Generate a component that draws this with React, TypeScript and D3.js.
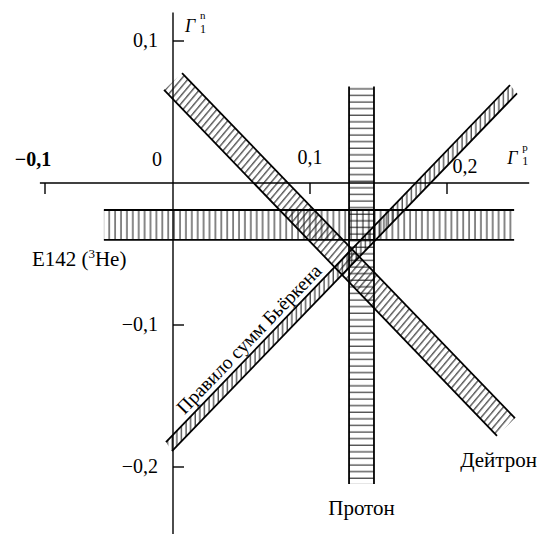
import React from 'react'
import * as d3 from 'd3'

const width = 541
const height = 534

// axis ticks (Γ1^p horizontal, Γ1^n vertical)
const xTicks = [-0.1, 0.1, 0.2]
const xTickLabels = ['−0,1', '0,1', '0,2']
const yTicks = [0.1, -0.1, -0.2]
const yTickLabels = ['0,1', '−0,1', '−0,2']
const xAxisExtent = [-0.104, 0.26]
const yAxisExtent = [0.12, -0.25]

// Proton band: Γ1^p range and Γ1^n extent
const protonP = [0.1285, 0.1467]
const protonN = [-0.212, 0.068]
// E142 (3He) band
const e142P = [-0.054, 0.249]
const e142N = [-0.04, -0.019]
// Deuteron band: Γp + Γn between these, edge extents in Γp
const deuteronSum = [0.0585, 0.084]
const deuteronLowerP = [-0.007, 0.2365]
const deuteronUpperP = [0.0066, 0.2496]
// Bjorken sum rule: Γp − Γn between these
const bjorkenDiff = [0.177, 0.188]
const bjorkenUpperP = [-0.0055, 0.246]
const bjorkenLowerP = [-0.0008, 0.2511]

const font = 'Liberation Serif, DejaVu Serif, Times New Roman, serif'

const x = d3.scaleLinear().domain([-0.1, 0, 0.2]).range([45, 173, 447])
const y = d3.scaleLinear().domain([0.1, -0.2]).range([41, 467])

const line = d3
    .line<[number, number]>()
    .x((d) => x(d[0]))
    .y((d) => y(d[1]))

const polygon = (pts: [number, number][]) => line(pts) + 'Z'

const proton = {
    area: polygon([
        [protonP[0], protonN[0]],
        [protonP[1], protonN[0]],
        [protonP[1], protonN[1]],
        [protonP[0], protonN[1]],
    ]),
    edges: [
        line([[protonP[0], protonN[0]], [protonP[0], protonN[1]]]),
        line([[protonP[1], protonN[0]], [protonP[1], protonN[1]]]),
    ],
}

const e142 = {
    area: polygon([
        [e142P[0], e142N[0]],
        [e142P[1], e142N[0]],
        [e142P[1], e142N[1]],
        [e142P[0], e142N[1]],
    ]),
    edges: [
        line([[e142P[0], e142N[0]], [e142P[1], e142N[0]]]),
        line([[e142P[0], e142N[1]], [e142P[1], e142N[1]]]),
    ],
}

const dLo: [number, number][] = deuteronLowerP.map((p) => [p, deuteronSum[0] - p])
const dHi: [number, number][] = deuteronUpperP.map((p) => [p, deuteronSum[1] - p])
const deuteron = {
    area: polygon([dLo[0], dLo[1], dHi[1], dHi[0]]),
    edges: [line(dLo), line(dHi)],
}

const bUp: [number, number][] = bjorkenUpperP.map((p) => [p, p - bjorkenDiff[0]])
const bLo: [number, number][] = bjorkenLowerP.map((p) => [p, p - bjorkenDiff[1]])
const bjorken = {
    area: polygon([bUp[0], bUp[1], bLo[1], bLo[0]]),
    edges: [line(bUp), line(bLo)],
}

// label along the Bjorken band
const bx0 = x(0.011)
const by0 = y(0.011 - bjorkenDiff[0])
const bx1 = x(0.2)
const by1 = y(0.2 - bjorkenDiff[0])
const bAngle = (Math.atan2(by1 - by0, bx1 - bx0) * 180) / Math.PI
const blen = Math.hypot(bx1 - bx0, by1 - by0)
const bnx = (by1 - by0) / blen
const bny = -(bx1 - bx0) / blen
const bOff = 5

const xLabelShift = [
    { dx: -12, dy: -17, bold: true },
    { dx: 0, dy: -19, bold: false },
    { dx: 18, dy: -10, bold: false },
]

// Γ with stacked superscript and subscript 1
const Gamma = ({ px, py, sup }: { px: number; py: number; sup: string }) => (
    <g fontFamily={font}>
        <text x={px} y={py} fontSize={18} fontStyle="italic">
            Γ
        </text>
        <text x={px + 15} y={py - 13} fontSize={11}>
            {sup}
        </text>
        <text x={px + 15} y={py + 1} fontSize={12}>
            1
        </text>
    </g>
)

const bands = [deuteron, bjorken, proton, e142]
const fills = ['url(#hatchD)', 'url(#hatchB)', 'url(#hatchH)', 'url(#hatchV)']

export default function App() {
    return (
        <svg
            width={width}
            height={height}
            style={{ position: 'absolute', left: 0, top: 0, background: '#fff' }}
        >
            <defs>
                <pattern id="hatchH" patternUnits="userSpaceOnUse" width={10} height={6.6}>
                    <line x1={0} x2={10} y1={3} y2={3} stroke="#111" strokeWidth={1} />
                </pattern>
                <pattern id="hatchV" patternUnits="userSpaceOnUse" width={5.9} height={10}>
                    <line x1={3} x2={3} y1={0} y2={10} stroke="#111" strokeWidth={1} />
                </pattern>
                <pattern
                    id="hatchD"
                    patternUnits="userSpaceOnUse"
                    width={5.2}
                    height={10}
                    patternTransform="rotate(40)"
                >
                    <line x1={2.5} x2={2.5} y1={0} y2={10} stroke="#111" strokeWidth={1} />
                </pattern>
                <pattern id="hatchB" patternUnits="userSpaceOnUse" width={4.6} height={10}>
                    <line x1={2} x2={2} y1={0} y2={10} stroke="#111" strokeWidth={1} />
                </pattern>
            </defs>

            {bands.map((b, i) => (
                <path key={'a' + i} d={b.area} fill={fills[i]} stroke="none" />
            ))}
            {bands.map((b, i) =>
                b.edges.map((e, j) => (
                    <path key={'e' + i + j} d={e || ''} fill="none" stroke="#000" strokeWidth={1.8} />
                ))
            )}

            {/* axes */}
            <line
                x1={x(xAxisExtent[0])}
                x2={x(xAxisExtent[1])}
                y1={y(0)}
                y2={y(0)}
                stroke="#000"
                strokeWidth={1.4}
            />
            <line
                x1={x(0)}
                x2={x(0)}
                y1={y(yAxisExtent[0])}
                y2={y(yAxisExtent[1])}
                stroke="#000"
                strokeWidth={1.4}
            />
            {xTicks.map((t, i) => (
                <g key={'xt' + i}>
                    <line x1={x(t)} x2={x(t)} y1={y(0)} y2={y(0) + 11} stroke="#000" strokeWidth={1.4} />
                    <text
                        x={x(t) + xLabelShift[i].dx}
                        y={y(0) + xLabelShift[i].dy}
                        textAnchor="middle"
                        fontFamily={font}
                        fontSize={20}
                        fontWeight={xLabelShift[i].bold ? 'bold' : 'normal'}
                    >
                        {xTickLabels[i]}
                    </text>
                </g>
            ))}
            <text x={x(0) - 16} y={y(0) - 17} textAnchor="middle" fontFamily={font} fontSize={20}>
                0
            </text>
            {yTicks.map((t, i) => (
                <g key={'yt' + i}>
                    <line x1={x(0)} x2={x(0) + 11} y1={y(t)} y2={y(t)} stroke="#000" strokeWidth={1.4} />
                    <text x={x(0) - 15} y={y(t) + 6} textAnchor="end" fontFamily={font} fontSize={20}>
                        {yTickLabels[i]}
                    </text>
                </g>
            ))}

            <Gamma px={x(0) + 12} py={y(yAxisExtent[0]) + 19} sup="n" />
            <Gamma px={x(xAxisExtent[1]) - 22} py={y(0) - 19} sup="p" />

            {/* band labels */}
            <text
                x={(x(protonP[0]) + x(protonP[1])) / 2}
                y={y(protonN[0]) + 31}
                textAnchor="middle"
                fontFamily={font}
                fontSize={21}
            >
                Протон
            </text>
            <text
                x={x(deuteronUpperP[1]) + 22}
                y={y(deuteronSum[0] - deuteronLowerP[1]) + 31}
                textAnchor="end"
                fontFamily={font}
                fontSize={21}
            >
                Дейтрон
            </text>
            <text x={x(e142P[0]) - 72} y={y(e142N[0]) + 26} fontFamily={font} fontSize={21}>
                E142 (<tspan fontSize={13} dy={-8}>3</tspan>
                <tspan dy={8}>He)</tspan>
            </text>
            <text
                transform={`translate(${bx0 + bnx * bOff},${by0 + bny * bOff}) rotate(${bAngle})`}
                fontFamily={font}
                fontSize={19.5}
            >
                Правило сумм Бьёркена
            </text>
        </svg>
    )
}
